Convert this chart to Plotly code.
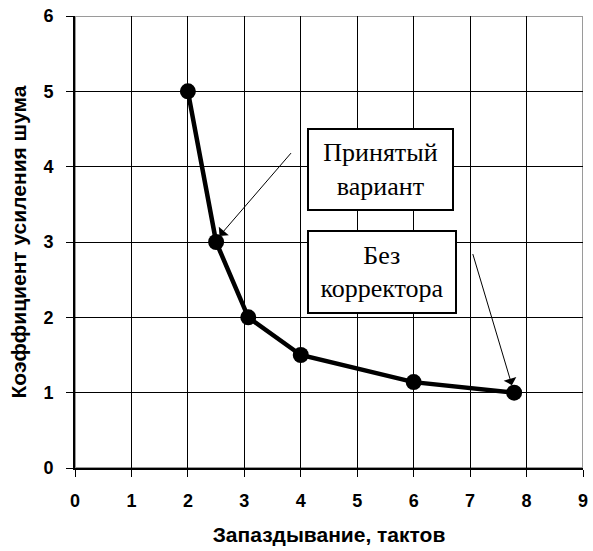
import plotly.graph_objects as go

x_delay = [2, 2.5, 3.07, 4, 6, 7.78]
y_gain = [5, 3, 2, 1.5, 1.14, 1.0]
x_ticks = [0, 1, 2, 3, 4, 5, 6, 7, 8, 9]
y_ticks = [0, 1, 2, 3, 4, 5, 6]
x_title = "Запаздывание, тактов"
y_title = "Коэффициент усиления шума"
label_accepted = "Принятый<br>вариант"
label_nocorr = "Без<br>корректора"

fig = go.Figure()
fig.add_trace(go.Scatter(
    x=x_delay, y=y_gain, mode="lines+markers",
    line=dict(color="black", width=4.5),
    marker=dict(color="black", size=16),
    showlegend=False,
))

# plot border (top/right gray)
fig.add_shape(type="rect", xref="x", yref="y", x0=0, x1=9, y0=0, y1=6,
              line=dict(color="#9a9a9a", width=2), layer="below")

serif = dict(family="Liberation Serif, Times New Roman, serif", size=26, color="black")
fig.add_annotation(x=5.41, y=3.96, xref="x", yref="y", text=label_accepted,
                   showarrow=False, font=serif, bgcolor="white",
                   bordercolor="black", borderwidth=2, width=141, height=77,
                   align="center")
fig.add_annotation(x=5.44, y=2.60, xref="x", yref="y", text=label_nocorr,
                   showarrow=False, font=serif, bgcolor="white",
                   bordercolor="black", borderwidth=2, width=144, height=78,
                   align="center")
# arrows
fig.add_annotation(x=2.56, y=3.08, ax=3.85, ay=4.2, xref="x", yref="y",
                   axref="x", ayref="y", text="", showarrow=True,
                   arrowhead=1, arrowsize=2.2, arrowwidth=1, arrowcolor="black")
fig.add_annotation(x=7.74, y=1.1, ax=7.04, ay=2.86, xref="x", yref="y",
                   axref="x", ayref="y", text="", showarrow=True,
                   arrowhead=1, arrowsize=2.2, arrowwidth=1, arrowcolor="black")

tickfont = dict(family="Liberation Sans, Arial, sans-serif", size=18, color="black")
titlefont = dict(family="Liberation Sans, Arial, sans-serif", size=21, color="black")
fig.update_layout(
    width=593, height=551,
    margin=dict(l=75, r=10, t=16, b=83),
    plot_bgcolor="white", paper_bgcolor="white",
    xaxis=dict(
        range=[0, 9], tickvals=x_ticks, ticktext=[f"<b>{v}</b>" for v in x_ticks],
        showgrid=True, gridcolor="black", gridwidth=1,
        showline=True, linecolor="black", linewidth=2,
        ticks="outside", ticklen=7, tickcolor="black", tickwidth=1,
        tickfont=tickfont, zeroline=False, automargin=False,
        ticklabelstandoff=8,
        title=dict(text="<b>" + x_title + "</b>", font=titlefont, standoff=18),
    ),
    yaxis=dict(
        range=[0, 6], tickvals=y_ticks, ticktext=[f"<b>{v}</b>" for v in y_ticks],
        showgrid=True, gridcolor="black", gridwidth=1,
        showline=True, linecolor="black", linewidth=2,
        ticks="outside", ticklen=7, tickcolor="black", tickwidth=1,
        tickfont=tickfont, zeroline=False, automargin=False,
        ticklabelstandoff=9,
        title=dict(text="<b>" + y_title + "</b>", font=titlefont, standoff=11),
    ),
)
fig.write_html("out.html", config={"displayModeBar": False},
               post_script="document.body.style.margin='0';")
